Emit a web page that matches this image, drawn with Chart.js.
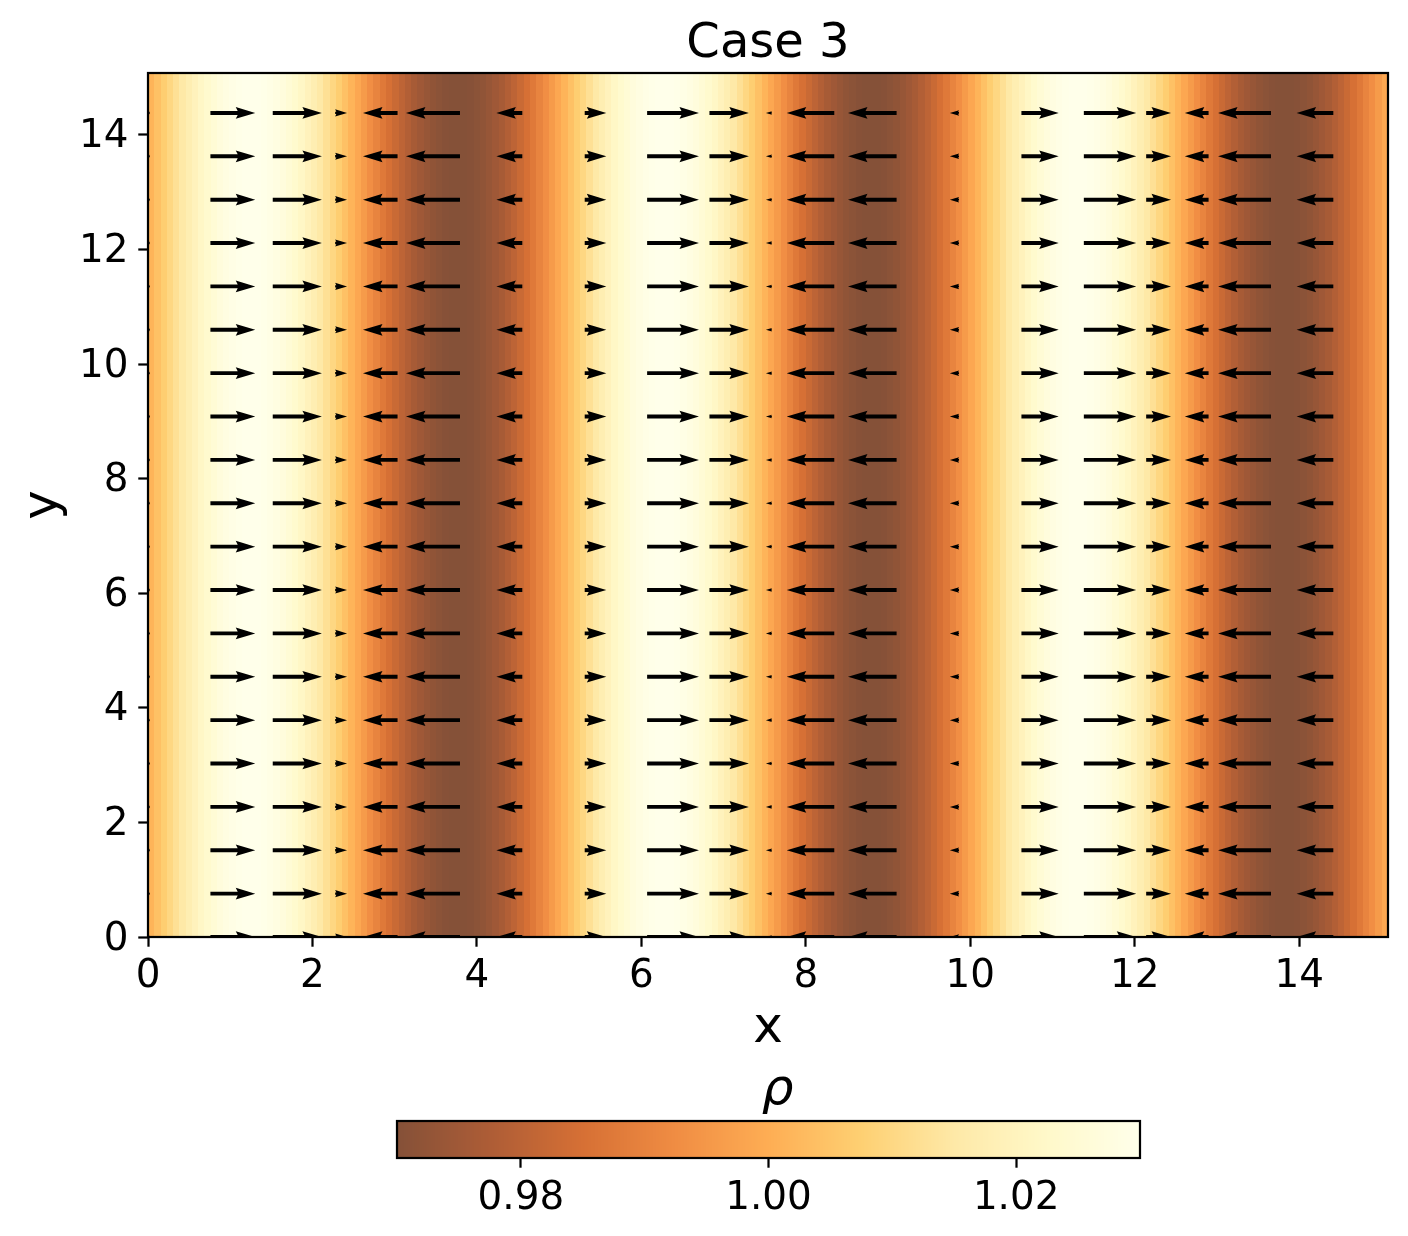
<!DOCTYPE html>
<html>
<head>
<meta charset="utf-8">
<title>Case 3</title>
<script src="https://cdn.jsdelivr.net/npm/chart.js@4.4.1/dist/chart.umd.min.js"></script>
<style>
  html, body { margin: 0; padding: 0; background: #fff; }
  #wrap { position: relative; width: 1408px; height: 1236px; }
  #fieldChart { position: absolute; left: 0; top: 0; }
  #cbarChart { position: absolute; left: 0; top: 1060px; }
</style>
</head>
<body>
<div id="wrap">
  <canvas id="fieldChart" width="1408" height="1236"></canvas>
  <canvas id="cbarChart" width="1408" height="176"></canvas>
</div>
<script>
// Axis ranges and tick labels
const xMax = 15.08;
const yMax = 15.08;
const xTicks = [0, 2, 4, 6, 8, 10, 12, 14];
const yTicks = [0, 2, 4, 6, 8, 10, 12, 14];

// Density per vertical cell, left to right (field does not vary with y)
const rhoCells = [
    1.0014, 1.0043, 1.0071, 1.0098, 1.0125, 1.0150, 1.0174, 1.0196, 1.0217, 1.0236, 1.0252,
    1.0267, 1.0279, 1.0288, 1.0295, 1.0299, 1.0300, 1.0299, 1.0295, 1.0288, 1.0279, 1.0267,
    1.0252, 1.0236, 1.0217, 1.0196, 1.0174, 1.0150, 1.0125, 1.0098, 1.0071, 1.0043, 1.0014,
    0.9986, 0.9957, 0.9929, 0.9902, 0.9875, 0.9850, 0.9826, 0.9804, 0.9783, 0.9764, 0.9748,
    0.9733, 0.9721, 0.9712, 0.9705, 0.9701, 0.9700, 0.9701, 0.9705, 0.9712, 0.9721, 0.9733,
    0.9748, 0.9764, 0.9783, 0.9804, 0.9826, 0.9850, 0.9875, 0.9902, 0.9929, 0.9957, 0.9986,
    1.0014, 1.0043, 1.0071, 1.0098, 1.0125, 1.0150, 1.0174, 1.0196, 1.0217, 1.0236, 1.0252,
    1.0267, 1.0279, 1.0288, 1.0295, 1.0299, 1.0300, 1.0299, 1.0295, 1.0288, 1.0279, 1.0267,
    1.0252, 1.0236, 1.0217, 1.0196, 1.0174, 1.0150, 1.0125, 1.0098, 1.0071, 1.0043, 1.0014,
    0.9986, 0.9957, 0.9929, 0.9902, 0.9875, 0.9850, 0.9826, 0.9804, 0.9783, 0.9764, 0.9748,
    0.9733, 0.9721, 0.9712, 0.9705, 0.9701, 0.9700, 0.9701, 0.9705, 0.9712, 0.9721, 0.9733,
    0.9748, 0.9764, 0.9783, 0.9804, 0.9826, 0.9850, 0.9875, 0.9902, 0.9929, 0.9957, 0.9986,
    1.0014, 1.0043, 1.0071, 1.0098, 1.0125, 1.0150, 1.0174, 1.0196, 1.0217, 1.0236, 1.0252,
    1.0267, 1.0279, 1.0288, 1.0295, 1.0299, 1.0300, 1.0299, 1.0295, 1.0288, 1.0279, 1.0267,
    1.0252, 1.0236, 1.0217, 1.0196, 1.0174, 1.0150, 1.0125, 1.0098, 1.0071, 1.0043, 1.0014,
    0.9986, 0.9957, 0.9929, 0.9902, 0.9875, 0.9850, 0.9826, 0.9804, 0.9783, 0.9764, 0.9748,
    0.9733, 0.9721, 0.9712, 0.9705, 0.9701, 0.9700, 0.9701, 0.9705, 0.9712, 0.9721, 0.9733,
    0.9748, 0.9764, 0.9783, 0.9804, 0.9826, 0.9850, 0.9875, 0.9902, 0.9929, 0.9957, 0.9986
];

// Quiver grid: column positions, row positions, horizontal velocity per column
const arrowX = [0, 0.759, 1.517, 2.276, 3.035, 3.794, 4.552, 5.311, 6.070, 6.828,
                7.587, 8.346, 9.104, 9.863, 10.622, 11.381, 12.139, 12.898, 13.657, 14.415];
const arrowY = [0, 0.757, 1.514, 2.271, 3.028, 3.785, 4.542, 5.299, 6.056, 6.813,
                7.570, 8.327, 9.084, 9.841, 10.598, 11.355, 12.112, 12.869, 13.626, 14.383];
const arrowU = [0.06, 0.83, 0.91, 0.22, -0.64, -1.00, -0.48, 0.40, 0.96, 0.73,
                -0.11, -0.88, -0.90, -0.17, 0.69, 0.97, 0.46, -0.44, -0.98, -0.68];

// Colour bar range and ticks
const rhoMin = 0.97;
const rhoMax = 1.03;
const cbarTicks = [0.98, 1.00, 1.02];

// Styling
const PT = 200 / 72;                 // px per point, figure was 200 dpi
const FONT = '"DejaVu Sans", sans-serif';
const cmapStops = ['#662506', '#993404', '#cc4c02', '#ec7014', '#fe9929',
                   '#fec44f', '#fee391', '#fff7bc', '#ffffe5'];   // YlOrBr reversed
const cmapAlpha = 0.8;
const arrowScale = 0.657;            // x units of arrow per unit of velocity
const shaftWidth = 3.9;              // px
const lineW = 0.8 * PT;
const tickLen = 3.5 * PT;

Chart.defaults.font.family = FONT;
Chart.defaults.color = '#000';

const hexToRgb = h => [1, 3, 5].map(i => parseInt(h.slice(i, i + 2), 16));
const stopRgb = cmapStops.map(hexToRgb);

function rhoColor(v) {
    let t = (v - rhoMin) / (rhoMax - rhoMin);
    t = Math.min(1, Math.max(0, t)) * (stopRgb.length - 1);
    const k = Math.min(Math.floor(t), stopRgb.length - 2);
    const f = t - k;
    const rgb = stopRgb[k].map((c, j) => (c + (stopRgb[k + 1][j] - c) * f) * cmapAlpha + 255 * (1 - cmapAlpha));
    return `rgb(${rgb.map(Math.round).join(',')})`;
}

// matplotlib-like quiver arrow, tail at (x0, y0), signed length in px
function drawArrow(ctx, x0, y0, len) {
    const w = shaftWidth;
    const L = Math.abs(len);
    const d = len < 0 ? -1 : 1;
    const hl = 5 * w, hw = 3 * w, hal = 4.5 * w;
    if (L < w) {
        ctx.beginPath();
        for (let k = 0; k < 6; k++) {
            const th = k * Math.PI / 3;
            ctx.lineTo(x0 + Math.cos(th) * w / 2, y0 + Math.sin(th) * w / 2);
        }
        ctx.closePath();
        ctx.fill();
        return;
    }
    let xs, ys;
    if (L < hl) {
        const s = L / hl;
        xs = [0, hl - hal, 0, hl].map(v => v * s);
        ys = [w / 2, w / 2, hw / 2, 0].map(v => v * s);
    } else {
        xs = [0, L - hal, L - hl, L];
        ys = [w / 2, w / 2, hw / 2, 0];
    }
    ctx.beginPath();
    ctx.moveTo(x0 + d * xs[0], y0 - ys[0]);
    for (let k = 1; k < 4; k++) ctx.lineTo(x0 + d * xs[k], y0 - ys[k]);
    for (let k = 2; k >= 0; k--) ctx.lineTo(x0 + d * xs[k], y0 + ys[k]);
    ctx.closePath();
    ctx.fill();
}

// Arrow points for the scatter dataset
const arrowPoints = [];
arrowY.forEach(y => arrowX.forEach((x, i) => arrowPoints.push({ x, y, u: arrowU[i] })));

// Density cells, painted behind the arrows
const densityPlugin = {
    id: 'density',
    beforeDatasetsDraw(chart) {
        const { ctx, chartArea: a, scales: { x } } = chart;
        const cellW = xMax / rhoCells.length;
        ctx.save();
        rhoCells.forEach((rho, i) => {
            const p0 = Math.round(x.getPixelForValue(i * cellW));
            const p1 = Math.round(x.getPixelForValue((i + 1) * cellW));
            ctx.fillStyle = rhoColor(rho);
            ctx.fillRect(p0, a.top, p1 - p0, a.bottom - a.top);
        });
        ctx.restore();
    }
};

// Quiver arrows at each dataset point
const quiverPlugin = {
    id: 'quiver',
    afterDatasetsDraw(chart) {
        const { ctx, chartArea: a, scales: { x } } = chart;
        const meta = chart.getDatasetMeta(0);
        ctx.save();
        ctx.beginPath();
        ctx.rect(a.left, a.top, a.right - a.left, a.bottom - a.top);
        ctx.clip();
        ctx.fillStyle = '#000';
        meta.data.forEach((el, i) => {
            const p = arrowPoints[i];
            const tip = x.getPixelForValue(p.x + p.u * arrowScale);
            drawArrow(ctx, el.x, el.y, tip - el.x);
        });
        ctx.restore();
    }
};

// Frame, title and axis labels
const framePlugin = {
    id: 'frame',
    afterDatasetsDraw(chart) {
        const { ctx, chartArea: a } = chart;
        ctx.save();
        ctx.strokeStyle = '#000';
        ctx.lineWidth = lineW;
        ctx.strokeRect(a.left, a.top, a.right - a.left, a.bottom - a.top);
        ctx.restore();
    },
    afterDraw(chart) {
        const { ctx, chartArea: a } = chart;
        const cx = (a.left + a.right) / 2;
        ctx.save();
        ctx.fillStyle = '#000';
        ctx.textAlign = 'center';
        ctx.textBaseline = 'alphabetic';
        ctx.font = `48px ${FONT}`;
        ctx.fillText('Case 3', cx, a.top - 16);
        ctx.font = `${18 * PT}px ${FONT}`;
        ctx.fillText('x', cx, 1042);
        ctx.translate(57, (a.top + a.bottom) / 2);
        ctx.rotate(-Math.PI / 2);
        ctx.fillText('y', 0, 0);
        ctx.restore();
    }
};

const tickFont = { family: FONT, size: 14 * PT };

const fieldChart = new Chart(document.getElementById('fieldChart'), {
    type: 'scatter',
    data: {
        datasets: [{ label: 'velocity', data: arrowPoints, pointRadius: 0, pointHoverRadius: 0 }]
    },
    options: {
        responsive: false,
        animation: false,
        devicePixelRatio: 1,
        events: [],
        layout: { padding: { left: 0, right: 20, top: 73, bottom: 0 } },
        plugins: { legend: { display: false }, tooltip: { enabled: false } },
        scales: {
            x: {
                type: 'linear', min: 0, max: xMax,
                afterBuildTicks: s => { s.ticks = xTicks.map(v => ({ value: v })); },
                afterFit: s => { s.height = 299; },
                ticks: { font: tickFont, color: '#000', padding: tickLen - 3, maxRotation: 0 },
                grid: { drawOnChartArea: false, tickLength: tickLen, tickWidth: lineW, tickColor: '#000' },
                border: { display: false }
            },
            y: {
                type: 'linear', min: 0, max: yMax,
                afterBuildTicks: s => { s.ticks = yTicks.map(v => ({ value: v })); },
                afterFit: s => { s.width = 148; },
                ticks: { font: tickFont, color: '#000', padding: tickLen, labelOffset: 2.5 },
                grid: { drawOnChartArea: false, tickLength: tickLen, tickWidth: lineW, tickColor: '#000' },
                border: { display: false }
            }
        }
    },
    plugins: [densityPlugin, quiverPlugin, framePlugin]
});

// Colour bar drawn along its own value scale
const cbarPlugin = {
    id: 'cbar',
    beforeDatasetsDraw(chart) {
        const { ctx, chartArea: a, scales: { x } } = chart;
        ctx.save();
        for (let px = Math.floor(a.left); px < a.right; px++) {
            ctx.fillStyle = rhoColor(x.getValueForPixel(px + 0.5));
            ctx.fillRect(px, a.top, 1, a.bottom - a.top);
        }
        ctx.strokeStyle = '#000';
        ctx.lineWidth = lineW;
        ctx.strokeRect(a.left, a.top, a.right - a.left, a.bottom - a.top);
        ctx.fillStyle = '#000';
        ctx.textAlign = 'center';
        ctx.font = `italic ${18 * PT}px ${FONT}`;
        ctx.fillText('\u03c1', (a.left + a.right) / 2 + 9, 44);
        ctx.restore();
    }
};

const cbarChart = new Chart(document.getElementById('cbarChart'), {
    type: 'scatter',
    data: { datasets: [{ label: 'rho', data: [], pointRadius: 0 }] },
    options: {
        responsive: false,
        animation: false,
        devicePixelRatio: 1,
        events: [],
        layout: { padding: { left: 397, right: 268, top: 61, bottom: 0 } },
        plugins: { legend: { display: false }, tooltip: { enabled: false } },
        scales: {
            x: {
                type: 'linear', min: rhoMin, max: rhoMax,
                afterBuildTicks: s => { s.ticks = cbarTicks.map(v => ({ value: v })); },
                afterFit: s => { s.height = 78; },
                ticks: { font: tickFont, color: '#000', padding: tickLen - 2, maxRotation: 0,
                         callback: v => v.toFixed(2) },
                grid: { drawOnChartArea: false, tickLength: tickLen, tickWidth: lineW, tickColor: '#000' },
                border: { display: false }
            },
            y: { display: false, min: 0, max: 1 }
        }
    },
    plugins: [cbarPlugin]
});
</script>
</body>
</html>
